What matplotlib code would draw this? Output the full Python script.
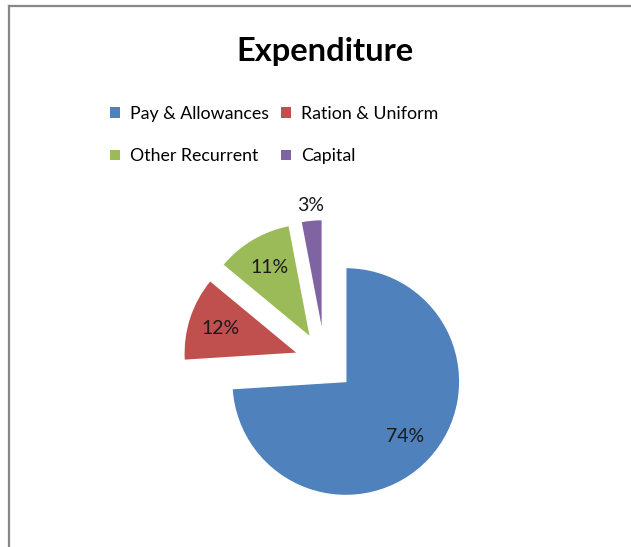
import matplotlib.pyplot as plt
from matplotlib.lines import Line2D
from matplotlib.patches import Patch
import numpy as np

categories = ["Pay & Allowances", "Ration & Uniform", "Other Recurrent", "Capital"]
shares = [74, 12, 11, 3]
colors = ["#4F81BD", "#C0504D", "#9BBB59", "#8064A2"]

plt.rcParams["font.family"] = ["Lato", "DejaVu Sans"]

W, H = 631, 547
fig = plt.figure(figsize=(W / 100, H / 100), dpi=100)
fig.patch.set_facecolor("white")

# chart frame (top and left edges only)
fig.add_artist(Line2D([8.5 / W, 8.5 / W], [0, 1 - 5.5 / H], transform=fig.transFigure,
                      color="#888888", lw=1.6))
fig.add_artist(Line2D([8.5 / W, 1], [1 - 5.5 / H, 1 - 5.5 / H], transform=fig.transFigure,
                      color="#888888", lw=1.6))

# pie axes: centre (325, 362) px, radius 114 px
cx, cy, r = 325, 362, 114
size = 2.0 * r * 1.6
ax = fig.add_axes([(cx - size / 2) / W, 1 - (cy + size / 2) / H, size / W, size / H])
explode = [0.25] * 4
wedges, texts, autotexts = ax.pie(
    shares, colors=colors, explode=explode, startangle=90, counterclock=False,
    autopct="%d%%", pctdistance=0.71,
    wedgeprops=dict(edgecolor="white", linewidth=1),
    textprops=dict(fontsize=14, color="#1a1a1a"),
)
ax.set_xlim(-1.6, 1.6)
ax.set_ylim(-1.6, 1.6)
ax.set_aspect("equal")
ax.axis("off")

# small slice label sits outside the wedge
w = wedges[3]
ang = np.deg2rad((w.theta1 + w.theta2) / 2)
autotexts[3].set_position(((0.25 + 1.13) * np.cos(ang), (0.25 + 1.13) * np.sin(ang)))

fig.text(cx / W, 1 - 52 / H, "Expenditure", ha="center", va="center",
         fontsize=23.5, fontweight="bold")

order = [0, 2, 1, 3]
handles = [Patch(facecolor=colors[i], edgecolor="none") for i in order]
labels = [categories[i] for i in order]
fig.legend(handles, labels, ncol=2, loc="center", bbox_to_anchor=(274 / W, 1 - 135 / H),
           frameon=False, fontsize=12.8, handlelength=0.55, handleheight=0.55,
           handletextpad=0.55, columnspacing=0.7, labelspacing=1.5)

fig.savefig("out.png", dpi=100, facecolor="white")
